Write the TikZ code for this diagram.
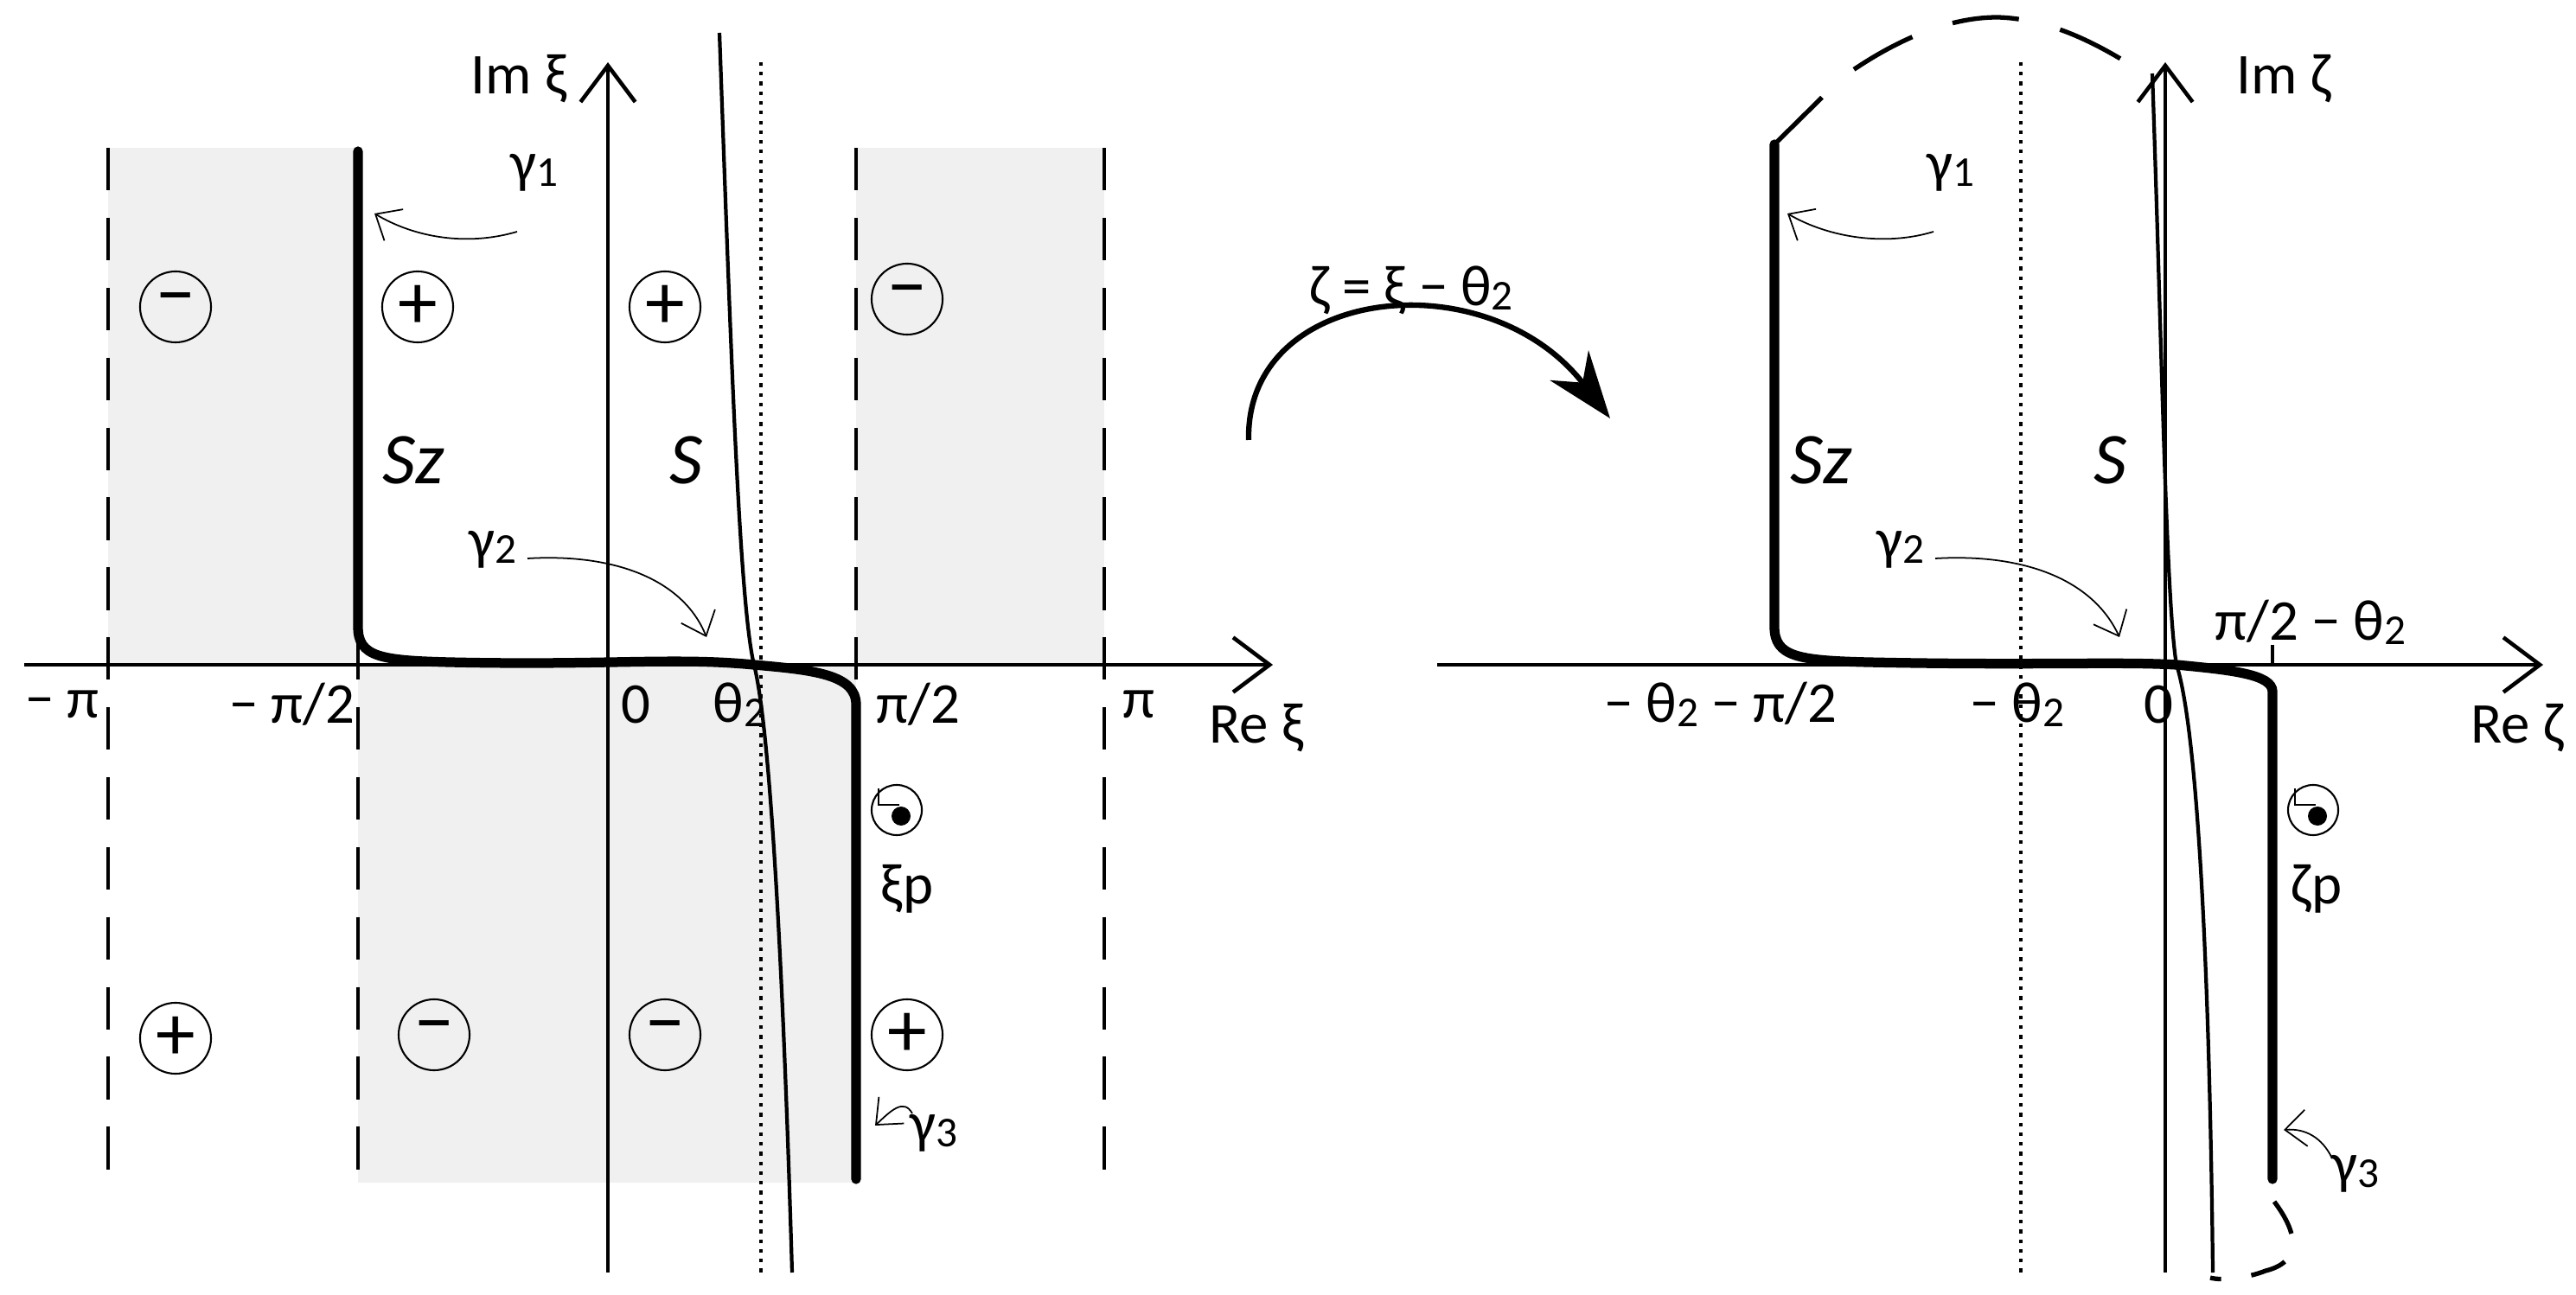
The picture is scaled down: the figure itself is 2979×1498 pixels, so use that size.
\documentclass[tikz,border=0pt]{standalone}
\usepackage{fontspec}
\setmainfont{Carlito}
\usetikzlibrary{arrows.meta}
\begin{document}
\begin{tikzpicture}[x=0.01cm,y=-0.01cm,
  lbl/.style={font=\fontsize{19}{22}\selectfont,inner sep=1pt},
  sgn/.style={draw,circle,line width=0.6pt,minimum size=0.82cm,inner sep=0pt,font=\fontsize{26}{26}\selectfont},
  strip/.style={dash pattern=on 14pt off 9pt,line width=1pt},
  thick curve/.style={line width=3.2pt},
  thin curve/.style={line width=1.2pt},
  ax/.style={line width=1.3pt,-{Straight Barb[length=12pt,width=18pt,line width=1.3pt]}},
  pointer/.style={line width=0.5pt,-{Straight Barb[length=7pt,width=12pt,line width=0.5pt]}},
  pole/.style={draw,circle,line width=0.6pt,minimum size=0.58cm,inner sep=0pt}]
\useasboundingbox (0,0) rectangle (2979,1498);
\newcommand{\sub}[1]{\raisebox{-0.15ex}{\fontsize{14}{14}\selectfont #1}}
\newcommand{\mns}{\raisebox{-0.45ex}{−}}
% ---------- left panel ----------
\fill[black!6] (125,171) rectangle (414,769);
\fill[black!6] (990,171) rectangle (1277,769);
\fill[black!6] (414,769) rectangle (990,1368);
\foreach \x in {125,414,990,1277} \draw[strip] (\x,171) -- (\x,1368);
\draw[dotted,line width=1.2pt] (880,72) -- (880,1472);
\coordinate (Ls) at (832,38); \coordinate (Lc) at (872,769); \coordinate (Le) at (916,1472);
\draw[thin curve] (Ls) .. controls (845,400) and (855,700) .. (Lc) .. controls (890,840) and (905,1100) .. (Le);
\coordinate (ReL0) at (28,769); \coordinate (ReL1) at (1472,769);
\coordinate (ImL0) at (703,1472); \coordinate (ImL1) at (703,72);
\draw[ax] (ReL0) -- (ReL1);
\draw[ax] (ImL0) -- (ImL1);
\coordinate (g1t) at (414,175);
\draw[thick curve,line cap=round] (g1t) -- (414,725) .. controls (414,760) and (440,764) .. (520,766)
  .. controls (700,770) and (780,760) .. (Lc) .. controls (940,775) and (990,780) .. (990,815) -- (990,1364);
\foreach \n/\p/\s in {a/{203,355}/\mns,b/{483,355}/+,c/{769,355}/+,d/{1049,346}/\mns,
  e/{203,1201}/+,f/{502,1197}/\mns,g/{769,1197}/\mns,h/{1049,1197}/+}
  \node[sgn] (s\n) at (\p) {\s};
\node[lbl] (imxi) at (600,91) {Im ξ};
\node[lbl] (g1L) at (618,200) {γ\sub{1}};
\coordinate (g1La) at (433,247);
\draw[pointer] (598,268) .. controls (540,285) and (480,275) .. (g1La);
\node[lbl,font=\fontsize{24}{24}\selectfont\itshape] (SzL) at (478,532) {Sz};
\node[lbl,font=\fontsize{24}{24}\selectfont\itshape] (SL) at (794,532) {S};
\node[lbl] (g2L) at (570,636) {γ\sub{2}};
\coordinate (g2La) at (817,737);
\draw[pointer] (610,646) .. controls (710,640) and (790,670) .. (g2La);
\node[lbl] at (72,815) {− π};
\node[lbl] at (338,815) {− π/2};
\node[lbl] at (735,815) {0};
\node[lbl] at (855,815) {θ\sub{2}};
\node[lbl] at (1062,815) {π/2};
\node[lbl] at (1317,815) {π};
\node[lbl] (rexi) at (1453,842) {Re ξ};
\node[pole] (pL) at (1037,937) {};
\fill (1042,944) circle (11);
\draw[line width=0.5pt] (1016,912) -- (1016,931) -- (1040,931);
\node[lbl] (xip) at (1049,1028) {ξp};
\node[lbl] (g3L) at (1080,1311) {γ\sub{3}};
\coordinate (g3La) at (1012,1302);
\draw[pointer] (1055,1288) .. controls (1045,1270) and (1030,1285) .. (g3La);
% ---------- middle arrow ----------
\coordinate (mA) at (1444,509); \coordinate (mB) at (1862,484);
\draw[line width=1.8pt,-{Stealth[length=22pt,width=16pt]}] (mA) .. controls (1440,330) and (1720,300) .. (mB);
\node[lbl] (map) at (1632,336) {ζ = ξ − θ\sub{2}};
% ---------- right panel ----------
\draw[dotted,line width=1.2pt] (2337,72) -- (2337,1472);
\coordinate (Rs) at (2489,85); \coordinate (Rc) at (2517,769); \coordinate (Re) at (2559,1472);
\draw[thin curve] (Rs) .. controls (2500,400) and (2505,700) .. (Rc) .. controls (2540,840) and (2555,1100) .. (Re);
\draw[ax] (1662,769) -- (2941,769);
\draw[ax] (2504,1472) -- (2504,72);
\coordinate (g1Rt) at (2052,167);
\draw[thick curve,line cap=round] (g1Rt) -- (2052,725) .. controls (2052,760) and (2080,764) .. (2160,766)
  .. controls (2350,770) and (2450,765) .. (Rc) .. controls (2580,775) and (2628,780) .. (2628,800) -- (2628,1364);
\draw[line width=1.2pt] (2628,746) -- (2628,769);
\draw[line width=1.5pt,dash pattern=on 22pt off 14pt] (g1Rt) -- (2130,90) .. controls (2200,40) and (2260,20) .. (2310,20) .. controls (2380,22) and (2440,60) .. (2480,85);
\draw[line width=1.5pt,dash pattern=on 12pt off 10pt] (2630,1390) .. controls (2660,1430) and (2660,1460) .. (2620,1470) .. controls (2600,1478) and (2570,1482) .. (2556,1478);
\node[lbl] (imze) at (2641,91) {Im ζ};
\node[lbl] (g1R) at (2256,200) {γ\sub{1}};
\coordinate (g1Ra) at (2067,247);
\draw[pointer] (2236,268) .. controls (2180,285) and (2115,275) .. (g1Ra);
\node[lbl,font=\fontsize{24}{24}\selectfont\itshape] (SzR) at (2106,532) {Sz};
\node[lbl,font=\fontsize{24}{24}\selectfont\itshape] (SR) at (2441,532) {S};
\node[lbl] (g2R) at (2198,636) {γ\sub{2}};
\coordinate (g2Ra) at (2451,737);
\draw[pointer] (2238,646) .. controls (2340,640) and (2420,670) .. (g2Ra);
\node[lbl] at (2672,720) {π/2 − θ\sub{2}};
\node[lbl] at (1990,815) {− θ\sub{2} − π/2};
\node[lbl] at (2333,815) {− θ\sub{2}};
\node[lbl] at (2496,815) {0};
\node[lbl] (reze) at (2911,842) {Re ζ};
\node[pole] (pR) at (2675,937) {};
\fill (2680,944) circle (11);
\draw[line width=0.5pt] (2654,912) -- (2654,931) -- (2678,931);
\node[lbl] (zep) at (2679,1028) {ζp};
\node[lbl] (g3R) at (2724,1358) {γ\sub{3}};
\coordinate (g3Ra) at (2641,1307);
\draw[pointer] (2697,1340) .. controls (2685,1315) and (2665,1305) .. (g3Ra);
\end{tikzpicture}
\end{document}
